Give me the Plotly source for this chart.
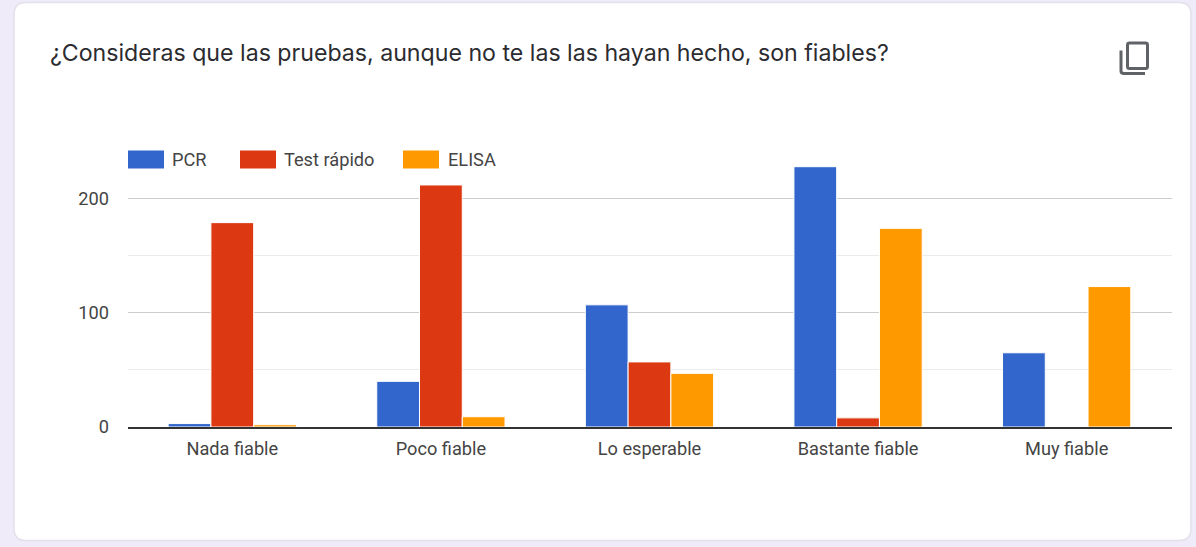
import plotly.graph_objects as go

categories = ["Nada fiable", "Poco fiable", "Lo esperable", "Bastante fiable", "Muy fiable"]
pcr = [3, 40, 107, 228, 65]
test_rapido = [179, 212, 57, 8, 0]
elisa = [2, 9, 47, 174, 123]
series_names = ["PCR", "Test rápido", "ELISA"]
colors = ["#3366cc", "#dc3912", "#ff9900"]
title_text = "¿Consideras que las pruebas, aunque no te las las hayan hecho, son fiables?"

W, H = 1196, 547
L, R, T, B = 128, 1172, 141.43, 427.5
FONT = "Roboto"
TXT = "#444444"


def fx(px):
    return (px - L) / (R - L)


def fy(py):
    return (B - py) / (B - T)


def P(cmds):
    out = []
    for c in cmds:
        if c[0] == "Z":
            out.append("Z")
        else:
            pts = c[1:]
            s = " ".join(f"{fx(pts[i]):.6f},{fy(pts[i+1]):.6f}" for i in range(0, len(pts), 2))
            out.append(f"{c[0]} {s}")
    return " ".join(out)


def rrect(x0, y0, x1, y1, r):
    return P([
        ("M", x0 + r, y0), ("L", x1 - r, y0), ("Q", x1, y0, x1, y0 + r),
        ("L", x1, y1 - r), ("Q", x1, y1, x1 - r, y1), ("L", x0 + r, y1),
        ("Q", x0, y1, x0, y1 - r), ("L", x0, y0 + r), ("Q", x0, y0, x0 + r, y0), ("Z",),
    ])


fig = go.Figure()
for name, vals, col in zip(series_names, [pcr, test_rapido, elisa], colors):
    fig.add_bar(x=categories, y=vals, name=name, marker=dict(color=col, line=dict(color="white", width=1)))

shapes = [
    dict(type="path", xref="paper", yref="paper", layer="below", path=rrect(14, 3, 1191, 541, 12),
         fillcolor="white", line=dict(color="#e2e0ea", width=1.5)),
    dict(type="path", xref="paper", yref="paper", layer="above", path=rrect(1127.5, 43.5, 1147.5, 69, 2),
         fillcolor="rgba(0,0,0,0)", line=dict(color="#5f6368", width=3)),
    dict(type="path", xref="paper", yref="paper", layer="above",
         path=P([("M", 1121, 51), ("L", 1121, 71.5), ("Q", 1121, 74, 1124, 74), ("L", 1145, 74)]),
         fillcolor="rgba(0,0,0,0)", line=dict(color="#5f6368", width=3)),
]
annotations = []
for name, col, sx, tx in zip(series_names, colors, [128, 240, 403], [170, 282, 446]):
    shapes.append(dict(type="rect", xref="paper", yref="paper", layer="above",
                       x0=fx(sx), x1=fx(sx + 36), y0=fy(169), y1=fy(151),
                       fillcolor=col, line=dict(width=0)))
    annotations.append(dict(text=name, xref="paper", yref="paper", x=fx(tx), y=fy(160), xanchor="left",
                            yanchor="middle", showarrow=False, font=dict(family=FONT, size=18.2, color=TXT)))

fig.update_layout(
    width=W, height=H, autosize=False, showlegend=False,
    margin=dict(l=L, r=W - R, t=T, b=H - B, pad=0),
    paper_bgcolor="#f0ebf8", plot_bgcolor="rgba(0,0,0,0)",
    barmode="group", bargap=0.385, bargroupgap=0,
    font=dict(family=FONT, size=18.2, color=TXT),
    title=dict(text=title_text, x=50 / W, xref="container", xanchor="left", y=1 - 53 / H, yref="container",
               yanchor="middle", font=dict(family="Inter", size=23.15, color="#2b2b30")),
    shapes=shapes, annotations=annotations,
    xaxis=dict(range=[-0.5, 4.505], showline=True, linecolor="#333333", linewidth=1.5, showgrid=False, ticks="",
               ticklabelstandoff=4, fixedrange=True),
    yaxis=dict(range=[0, 250.5], tickvals=[0, 100, 200], showgrid=True, gridcolor="#cccccc", gridwidth=1,
               zeroline=False, ticks="", ticklabelstandoff=18,
               minor=dict(tickvals=[50, 150, 250], showgrid=True, gridcolor="#ebebeb", gridwidth=1, ticks="")),
)

fig.write_html("out.html", config={"displayModeBar": False},
               post_script="document.body.style.margin='0';document.body.style.overflow='hidden';")
